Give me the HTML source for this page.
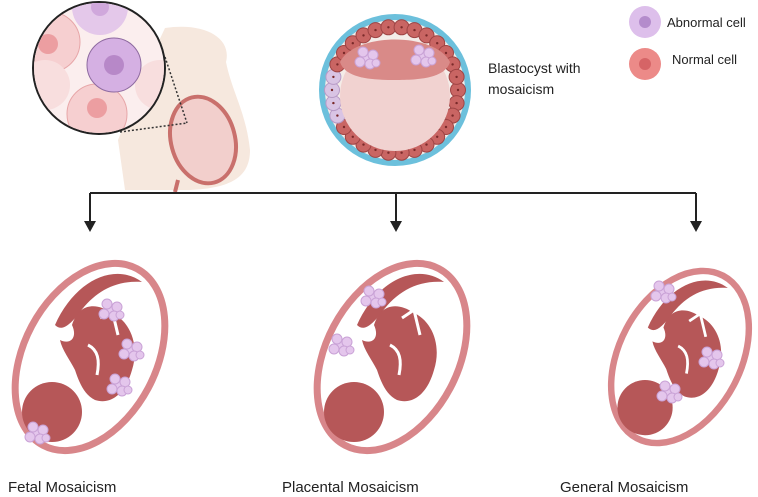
<!DOCTYPE html>
<html><head><style>
body{margin:0;background:#fff;}
svg{display:block;font-family:"Liberation Sans",sans-serif;}
</style></head><body>
<svg id="s" width="758" height="497" viewBox="0 0 758 497">
<defs>
<g id="cl">
<circle cx="0" cy="0" r="5" fill="#e4c6ec" stroke="#c9a2d6" stroke-width="1"/>
<circle cx="7" cy="-3" r="5" fill="#e4c6ec" stroke="#c9a2d6" stroke-width="1"/>
<circle cx="-6" cy="4" r="5" fill="#e4c6ec" stroke="#c9a2d6" stroke-width="1"/>
<circle cx="4" cy="6" r="5" fill="#e4c6ec" stroke="#c9a2d6" stroke-width="1"/>
<circle cx="-3" cy="-6" r="5" fill="#e4c6ec" stroke="#c9a2d6" stroke-width="1"/>
<circle cx="10" cy="5" r="4" fill="#e4c6ec" stroke="#c9a2d6" stroke-width="1"/>
</g>
<g id="fet">
<ellipse cx="90" cy="357" rx="66" ry="100" transform="rotate(28 90 357)" fill="#fff" stroke="#d8868a" stroke-width="7"/>
<path d="M55,325 C75,280 115,262 142,282 C115,280 95,292 80,312 C70,325 62,332 55,325Z" fill="#b65758"/>
<circle cx="52" cy="412" r="30" fill="#b65758"/>
<path d="M72,325 C80,300 100,305 110,312 C130,320 140,345 132,370 C125,395 110,405 95,400 C85,395 80,385 75,370 C70,360 62,350 60,340 C70,345 78,338 72,325Z" fill="#b65758"/>
<path d="M100,318 L112,310 L118,335" stroke="#fff" stroke-width="3" fill="none"/>
<path d="M88,345 C98,350 100,360 97,375" stroke="#fff" stroke-width="3" fill="none"/>
</g>
</defs>

<path d="M165,28 C205,22 232,38 226,62 C232,92 246,112 250,150 C250,178 230,188 190,190 L125,190 L118,140 L150,60Z" fill="#f6e8de"/>
<ellipse cx="203" cy="140" rx="32" ry="44" transform="rotate(-15 203 140)" fill="#f2cfcc" stroke="#c9706c" stroke-width="4"/>
<path d="M178,180 L175,192" stroke="#c9706c" stroke-width="4"/>
<line x1="165" y1="57" x2="187" y2="123" stroke="#333" stroke-width="1.5" stroke-dasharray="2,2"/>
<line x1="120" y1="132" x2="187" y2="123" stroke="#333" stroke-width="1.5" stroke-dasharray="2,2"/>
<circle cx="99" cy="68" r="66" fill="#fbeeee" stroke="#222" stroke-width="2"/>
<clipPath id="mc"><circle cx="99" cy="68" r="65"/></clipPath>
<g clip-path="url(#mc)">
<circle cx="50" cy="42" r="30" fill="#f6cfd0" stroke="#e7a6a8"/><circle cx="48" cy="44" r="10" fill="#ec9ea1"/>
<circle cx="100" cy="7" r="28" fill="#e4c8ea"/><circle cx="100" cy="7" r="9" fill="#d0a8dc"/>
<circle cx="97" cy="114" r="30" fill="#f6cfd0" stroke="#e7a6a8"/><circle cx="97" cy="108" r="10" fill="#ec9ea1"/>
<circle cx="45" cy="85" r="25" fill="#f8dede"/>
<circle cx="160" cy="85" r="25" fill="#f8dede"/>
<circle cx="114" cy="65" r="27" fill="#d5b0e3" stroke="#8e6aa0" stroke-width="1"/><circle cx="114" cy="65" r="10" fill="#b788c8"/>
</g>

<circle cx="395" cy="90" r="76" fill="#6cc0dc"/>
<circle cx="395" cy="90" r="70" fill="#f4ece8"/>
<g id="ring"></g>
<circle cx="395" cy="96" r="55" fill="#f1d2d0"/>
<path d="M340,62 C355,32 435,32 450,62 C445,78 420,80 395,80 C370,80 345,78 340,62Z" fill="#d98a88"/>
<g transform="translate(366,58)"><use href="#cl"/></g>
<g transform="translate(422,56)"><use href="#cl"/></g>

<text x="488" y="73" font-size="14" fill="#222">Blastocyst with</text>
<text x="488" y="94" font-size="14" fill="#222">mosaicism</text>
<circle cx="645" cy="22" r="16" fill="#ddbfeb"/><circle cx="645" cy="22" r="6" fill="#b48ccc"/>
<circle cx="645" cy="64" r="16" fill="#ec8a88"/><circle cx="645" cy="64" r="6" fill="#d66466"/>
<text x="667" y="27" font-size="13" fill="#222">Abnormal cell</text>
<text x="672" y="64" font-size="13" fill="#222">Normal cell</text>

<path d="M90,193 H696 M90,193 V222 M396,193 V222 M696,193 V222" stroke="#222" stroke-width="2" fill="none"/>
<path d="M84,221 L96,221 L90,232Z M390,221 L402,221 L396,232Z M690,221 L702,221 L696,232Z" fill="#222"/>

<use href="#fet"/>
<g transform="translate(36,433)"><use href="#cl"/></g>
<g transform="translate(110,310)"><use href="#cl"/></g>
<g transform="translate(130,350)"><use href="#cl"/></g>
<g transform="translate(118,385)"><use href="#cl"/></g>

<g transform="translate(302,0)"><use href="#fet"/></g>
<g transform="translate(372,297)"><use href="#cl"/></g>
<g transform="translate(340,345)"><use href="#cl"/></g>

<g transform="translate(680,357) scale(0.92) translate(-90,-357)"><use href="#fet"/></g>
<g transform="translate(662,292)"><use href="#cl"/></g>
<g transform="translate(710,358)"><use href="#cl"/></g>
<g transform="translate(668,392)"><use href="#cl"/></g>

<text x="8" y="492" font-size="15" fill="#222">Fetal Mosaicism</text>
<text x="282" y="492" font-size="15" fill="#222">Placental Mosaicism</text>
<text x="560" y="492" font-size="15" fill="#222">General Mosaicism</text>
</svg>
<script>
var g=document.getElementById('ring'),h='';
for(var i=0;i<30;i++){var a=i/30*2*Math.PI,x=395+63*Math.cos(a),y=90+63*Math.sin(a);
var purple=(a>2.7&&a<3.5);
h+='<circle cx="'+x.toFixed(1)+'" cy="'+y.toFixed(1)+'" r="7.5" fill="'+(purple?'#d9c4e4':'#c96563')+'" stroke="'+(purple?'#b79ac6':'#9e4444')+'" stroke-width="1"/><circle cx="'+x.toFixed(1)+'" cy="'+y.toFixed(1)+'" r="1.2" fill="#7a2a2a"/>';}
g.innerHTML=h;
</script>
</body></html>
